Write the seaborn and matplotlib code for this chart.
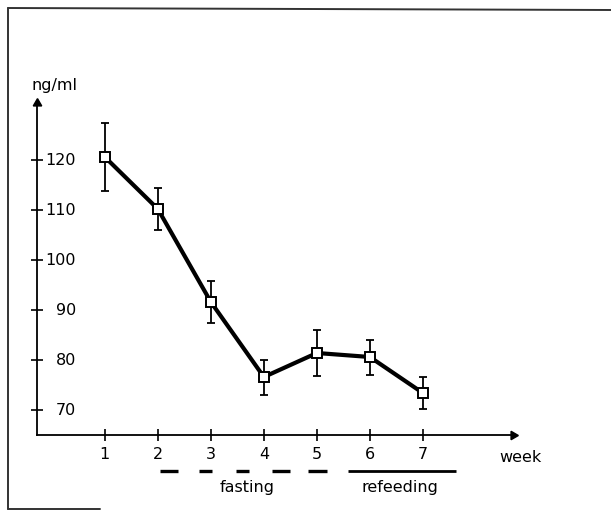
import matplotlib
matplotlib.use("Agg")
import matplotlib.pyplot as plt
import seaborn as sns
import numpy as np
from matplotlib.lines import Line2D

weeks = [1, 2, 3, 4, 5, 6, 7]
means = [120.6, 110.2, 91.6, 76.6, 81.4, 80.6, 73.4]
errs = [6.8, 4.2, 4.2, 3.5, 4.6, 3.5, 3.2]
yticks = [70, 80, 90, 100, 110, 120]
fasting_dashes = [(2.04, 2.38), (2.77, 3.02), (3.47, 3.72), (4.15, 4.49), (4.83, 5.19)]
refeeding_span = (5.58, 7.62)

sns.set_style("white")
plt.rcParams['font.family'] = ['DejaVu Sans']
plt.rcParams['text.color'] = 'black'
plt.rcParams['xtick.color'] = 'black'
plt.rcParams['ytick.color'] = 'black'

W, H = 611, 511
fig = plt.figure(figsize=(W / 100, H / 100), dpi=100)
ax_left, ax_right, ax_bottom, ax_top = 37, 513, 435, 103
ax = fig.add_axes([ax_left / W, (H - ax_bottom) / H, (ax_right - ax_left) / W, (ax_bottom - ax_top) / H])
ax.set_xlim(-0.28, 8.7)
ax.set_ylim(65, 131.4)

# error bars
ax.errorbar(weeks, means, yerr=errs, fmt='none', ecolor='black', elinewidth=1.3,
            capsize=3.2, capthick=1.3, zorder=2)
sns.lineplot(x=weeks, y=means, ax=ax, color='black', linewidth=3.0, marker='s',
             markersize=7, markerfacecolor='white', markeredgecolor='black',
             markeredgewidth=1.4, zorder=3)

for s in ['top', 'right']:
    ax.spines[s].set_visible(False)
for s in ['left', 'bottom']:
    ax.spines[s].set_color('black')
    ax.spines[s].set_linewidth(1.3)

# arrowheads
ax.plot([0], [1], marker=(3, 0, 0), markersize=7, color='black', transform=ax.transAxes,
        clip_on=False)
ax.plot([1], [0], marker=(3, 0, -90), markersize=7, color='black', transform=ax.transAxes,
        clip_on=False)

ax.set_xticks(weeks)
ax.set_xticklabels([str(w) for w in weeks], fontsize=11.5)
ax.set_yticks(yticks)
ax.set_yticklabels([])
ax.tick_params(axis='both', direction='inout', length=9, width=1.2, color='black',
               bottom=True, left=True, labelcolor='black')
ax.tick_params(axis='x', pad=4)
for v in yticks:
    ax.text(0.46, v, str(v), ha='right', va='center', fontsize=11.5)

ax.text(0.05, 135.0, 'ng/ml', ha='center', va='center', fontsize=11.5, clip_on=False)
ax.text(8.85, 60.6, 'week', ha='center', va='center', fontsize=11.5, clip_on=False)
ax.text(3.68, 54.6, 'fasting', ha='center', va='center', fontsize=11.5, clip_on=False)
ax.text(6.57, 54.6, 'refeeding', ha='center', va='center', fontsize=11.5, clip_on=False)

for a, b in fasting_dashes:
    ax.plot([a, b], [57.8, 57.8], color='black', linewidth=2.4, clip_on=False, solid_capstyle='butt')
ax.plot(list(refeeding_span), [57.8, 57.8], color='black', linewidth=2.0, clip_on=False, solid_capstyle='butt')

# outer frame (pixel coords)
def px(x, y):
    return (x / W, 1 - y / H)
for (x0, y0), (x1, y1) in [((8, 8), (8, 509)), ((8, 8), (611, 10)), ((8, 509), (100, 509))]:
    (fx0, fy0), (fx1, fy1) = px(x0, y0), px(x1, y1)
    fig.add_artist(Line2D([fx0, fx1], [fy0, fy1], color='#333333', linewidth=1.4))

fig.savefig('out.png', dpi=100)
